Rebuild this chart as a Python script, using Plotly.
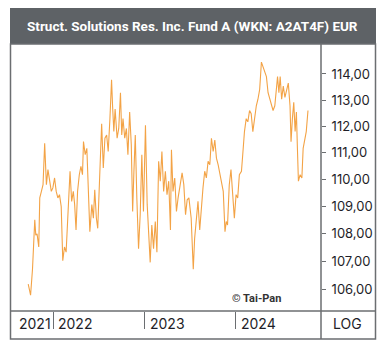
import pandas as pd
import plotly.graph_objects as go

# decimal years of sampled points
t_years = [
    2021.721, 2021.747, 2021.768, 2021.793, 2021.804, 2021.818, 2021.837, 2021.848, 2021.866, 2021.884,
    2021.902, 2021.921, 2021.938, 2021.957, 2021.975, 2021.992, 2022.011, 2022.029, 2022.047, 2022.065,
    2022.084, 2022.101, 2022.120, 2022.138, 2022.155, 2022.181, 2022.199, 2022.217, 2022.232, 2022.247,
    2022.264, 2022.283, 2022.301, 2022.318, 2022.329, 2022.348, 2022.366, 2022.377, 2022.399, 2022.421,
    2022.438, 2022.453, 2022.471, 2022.486, 2022.500, 2022.518, 2022.529, 2022.547, 2022.565, 2022.584,
    2022.601, 2022.620, 2022.638, 2022.649, 2022.663, 2022.677, 2022.699, 2022.717, 2022.736, 2022.750,
    2022.764, 2022.783, 2022.801, 2022.818, 2022.837, 2022.855, 2022.870, 2022.884, 2022.899, 2022.916,
    2022.935, 2022.953, 2022.971, 2022.989, 2023.011, 2023.030, 2023.044, 2023.063, 2023.081, 2023.100,
    2023.119, 2023.137, 2023.156, 2023.174, 2023.192, 2023.211, 2023.230, 2023.248, 2023.267, 2023.286,
    2023.297, 2023.314, 2023.333, 2023.352, 2023.370, 2023.389, 2023.414, 2023.433, 2023.452, 2023.470,
    2023.489, 2023.514, 2023.526, 2023.537, 2023.552, 2023.570, 2023.589, 2023.608, 2023.626, 2023.644,
    2023.663, 2023.681, 2023.700, 2023.719, 2023.737, 2023.756, 2023.774, 2023.792, 2023.811, 2023.830,
    2023.848, 2023.867, 2023.886, 2023.900, 2023.914, 2023.933, 2023.952, 2023.970, 2023.989, 2024.008,
    2024.026, 2024.044, 2024.067, 2024.081, 2024.100, 2024.119, 2024.137, 2024.156, 2024.174, 2024.192,
    2024.211, 2024.230, 2024.248, 2024.267, 2024.286, 2024.303, 2024.322, 2024.341, 2024.359, 2024.378,
    2024.397, 2024.414, 2024.433, 2024.452, 2024.463, 2024.478, 2024.492, 2024.508, 2024.526, 2024.544,
    2024.563, 2024.581, 2024.600, 2024.611, 2024.626, 2024.641, 2024.656, 2024.670, 2024.681, 2024.692,
    2024.711, 2024.730, 2024.744, 2024.763, 2024.778, 2024.797,
]

prices = [
    106.18, 105.78, 106.71, 108.51, 107.95, 108.00, 107.52, 109.32, 109.56, 109.81,
    111.36, 109.81, 110.37, 109.94, 109.56, 109.69, 110.06, 109.56, 109.32, 109.44,
    109.00, 107.02, 107.52, 107.33, 108.32, 110.31, 109.19, 109.56, 109.07, 108.14,
    109.56, 110.18, 110.49, 110.18, 111.42, 110.93, 111.17, 109.94, 108.08, 109.07,
    108.57, 109.62, 108.57, 108.20, 109.32, 110.93, 112.10, 110.43, 111.55, 111.67,
    111.05, 112.29, 113.78, 112.78, 111.80, 112.66, 111.55, 111.92, 113.28, 111.67,
    112.29, 111.55, 111.92, 110.93, 112.54, 111.30, 108.82, 110.31, 111.67, 109.32,
    107.46, 108.70, 110.93, 108.82, 112.04, 109.07, 108.08, 106.96, 108.32, 107.46,
    108.45, 107.33, 110.68, 109.94, 111.05, 109.56, 110.31, 109.44, 109.94, 108.14,
    111.11, 109.56, 110.06, 108.82, 109.32, 109.69, 110.25, 109.81, 108.70, 109.25,
    109.32, 108.57, 107.58, 106.71, 107.83, 108.57, 109.19, 108.14, 109.07, 109.69,
    110.31, 110.06, 110.68, 110.55, 111.55, 111.05, 111.48, 110.80, 110.55, 110.18,
    109.81, 109.56, 108.08, 108.45, 108.32, 109.81, 110.37, 109.44, 108.57, 109.44,
    109.32, 110.18, 110.31, 110.93, 111.80, 112.29, 112.17, 112.60, 112.48, 111.80,
    112.42, 112.78, 113.03, 113.41, 114.46, 114.27, 114.15, 113.90, 113.28, 113.03,
    112.85, 112.60, 112.78, 113.53, 113.90, 113.28, 113.90, 113.03, 113.53, 113.10,
    113.41, 113.65, 112.78, 111.42, 112.29, 112.91, 111.80, 112.54, 111.17, 109.94,
    110.18, 110.06, 111.17, 111.55, 111.80, 112.60,
]

y_ticks = [106, 107, 108, 109, 110, 111, 112, 113, 114]
year_labels = ["2021", "2022", "2023", "2024"]
year_label_pos = ["2021-08-06", "2022-01-12", "2023-01-17", "2024-01-16"]
year_starts = ["2022-01-01", "2023-01-01", "2024-01-01"]
title_text = "Struct. Solutions Res. Inc. Fund A (WKN: A2AT4F) EUR"


def dec_to_date(y):
    yr = int(y)
    start = pd.Timestamp(year=yr, month=1, day=1)
    end = pd.Timestamp(year=yr + 1, month=1, day=1)
    return start + (end - start) * (y - yr)


dates = [dec_to_date(v) for v in t_years]

W, H = 386, 353
L, R, T, B = 11, 65, 44, 42
pw = W - L - R
ph = H - T - B


def px_x(x):
    return (x - L) / pw


def px_y(y):
    return (H - B - y) / ph


frame = "#6b6e71"
tick_font = "Inter, Roboto, sans-serif"

fig = go.Figure()
fig.add_trace(go.Scatter(
    x=dates, y=prices, mode="lines",
    line=dict(color="#f3a346", width=1.1),
    hoverinfo="skip", showlegend=False,
))

fig.update_layout(
    width=W, height=H,
    margin=dict(l=L, r=R, t=T, b=B),
    paper_bgcolor="white", plot_bgcolor="white",
    separators=", ",
    xaxis=dict(
        type="date",
        range=["2021-07-14", "2024-12-10"],
        showgrid=False, zeroline=False, showline=False,
        showticklabels=False,
        tickmode="array", tickvals=year_starts,
        ticks="outside", ticklen=17, tickwidth=1, tickcolor=frame,
    ),
    yaxis=dict(
        type="log",
        range=[2.02208, 2.06131],
        side="right",
        showgrid=False, zeroline=False, showline=False,
        tickmode="array", tickvals=y_ticks,
        tickformat=".2f",
        ticks="outside", ticklen=4, tickwidth=1, tickcolor=frame,
        tickfont=dict(family=tick_font, size=13, color="#1e1e28"),
        ticklabelstandoff=3,
    ),
)

shapes = []
# title bar
shapes.append(dict(type="rect", xref="paper", yref="paper",
                   x0=px_x(10), x1=px_x(376), y0=px_y(44), y1=px_y(8),
                   fillcolor="#5e6266", line=dict(width=0), layer="below"))
# outer frame
shapes.append(dict(type="rect", xref="paper", yref="paper",
                   x0=px_x(10.5), x1=px_x(375.5), y0=px_y(339), y1=px_y(44),
                   line=dict(color=frame, width=1.5), fillcolor="rgba(0,0,0,0)"))
# axis separator vertical
shapes.append(dict(type="line", xref="paper", yref="paper",
                   x0=1, x1=1, y0=px_y(339), y1=px_y(44),
                   line=dict(color=frame, width=1.5)))
# bottom separator horizontal
shapes.append(dict(type="line", xref="paper", yref="paper",
                   x0=px_x(10.5), x1=px_x(375.5), y0=0, y1=0,
                   line=dict(color=frame, width=1.5)))
fig.update_layout(shapes=shapes)

ann = []
ann.append(dict(text="<b>" + title_text + "</b>", xref="paper", yref="paper",
                x=px_x(193), y=px_y(26), xanchor="center", yanchor="middle",
                showarrow=False,
                font=dict(family="Roboto, sans-serif", size=13.5, color="white")))
for lab, pos in zip(year_labels, year_label_pos):
    ann.append(dict(text=lab, xref="x", yref="paper", x=pos, y=px_y(323),
                    xanchor="left", yanchor="middle", showarrow=False,
                    font=dict(family=tick_font, size=14, color="#1e1e28")))
ann.append(dict(text="LOG", xref="paper", yref="paper", x=px_x(331), y=px_y(323),
                xanchor="left", yanchor="middle", showarrow=False,
                font=dict(family=tick_font, size=14, color="#1e1e28")))
ann.append(dict(text="<b>© Tai-Pan</b>", xref="paper", yref="paper", x=px_x(256), y=px_y(298),
                xanchor="center", yanchor="middle", showarrow=False,
                font=dict(family="Roboto, sans-serif", size=11, color="#333333")))
fig.update_layout(annotations=ann)

fig.write_html("out.html")
